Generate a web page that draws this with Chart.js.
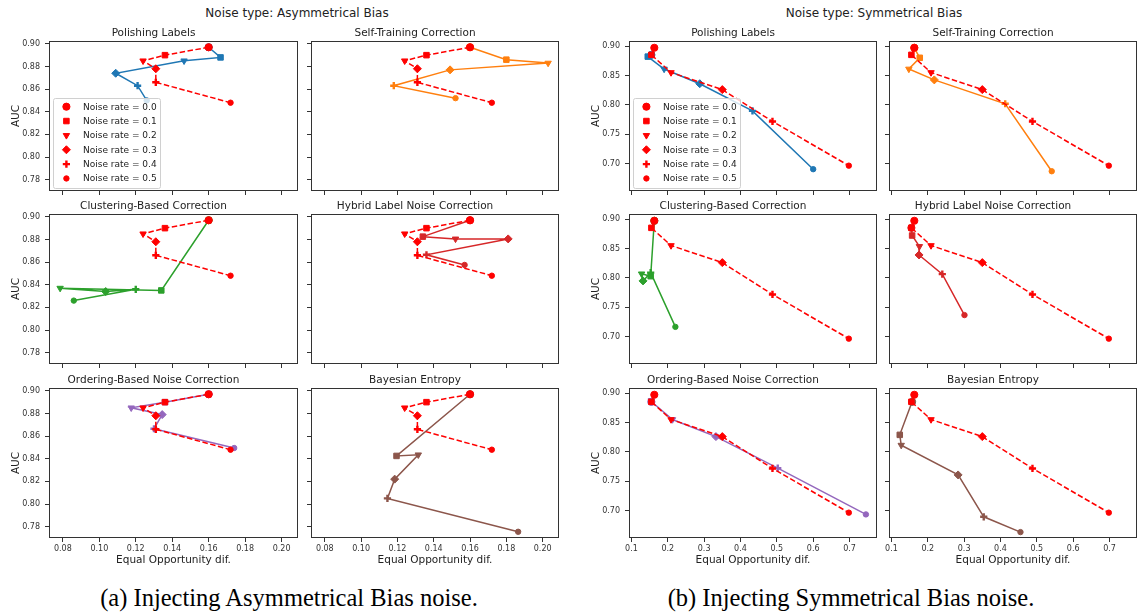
<!DOCTYPE html>
<html>
<head>
<meta charset="utf-8">
<script src="https://cdn.jsdelivr.net/npm/chart.js@4.4.1/dist/chart.umd.min.js"></script>
<style>
  body { margin: 0; background: #fff; width: 1139px; height: 615px; position: relative; overflow: hidden; font-family: "DejaVu Sans", sans-serif; }
  canvas { position: absolute; }
  .sup { position: absolute; font-size: 12px; line-height: 14px; color: #222; transform: translateX(-50%); white-space: nowrap; }
  .cap { position: absolute; font-family: "Liberation Serif", "Times New Roman", serif; font-size: 24.5px; line-height: 28px; color: #000; transform: translateX(-50%); white-space: nowrap; }
</style>
</head>
<body>
<div class="sup" style="left:297px; top:6px">Noise type: Asymmetrical Bias</div>
<div class="sup" style="left:874px; top:6px">Noise type: Symmetrical Bias</div>
<div class="cap" style="left:289px; top:584px">(a) Injecting Asymmetrical Bias noise.</div>
<div class="cap" style="left:851px; top:584px">(b) Injecting Symmetrical Bias noise.</div>

<script>
const noiseRates = ['0.0', '0.1', '0.2', '0.3', '0.4', '0.5'];
const methodNames = ['Polishing Labels', 'Self-Training Correction', 'Clustering-Based Correction',
  'Hybrid Label Noise Correction', 'Ordering-Based Noise Correction', 'Bayesian Entropy'];
const methodColors = ['#1f77b4', '#ff7f0e', '#2ca02c', '#d62728', '#9467bd', '#8c564b'];

// asymmetrical bias: x = equal opportunity dif., y = AUC, one value per noise rate
const asymBaselineEod = [0.160, 0.136, 0.124, 0.131, 0.131, 0.172];
const asymBaselineAuc = [0.897, 0.890, 0.885, 0.878, 0.866, 0.848];
const asymPolishingEod = [0.160, 0.1665, 0.1465, 0.109, 0.121, 0.126];
const asymPolishingAuc = [0.897, 0.888, 0.885, 0.874, 0.863, 0.850];
const asymSelfTrainEod = [0.160, 0.180, 0.203, 0.149, 0.118, 0.152];
const asymSelfTrainAuc = [0.897, 0.886, 0.883, 0.877, 0.863, 0.852];
const asymClusteringEod = [0.160, 0.134, 0.0785, 0.1035, 0.120, 0.086];
const asymClusteringAuc = [0.897, 0.835, 0.837, 0.834, 0.836, 0.826];
const asymHybridEod = [0.160, 0.134, 0.152, 0.181, 0.136, 0.157];
const asymHybridAuc = [0.897, 0.8825, 0.8805, 0.8805, 0.8665, 0.8575];
const asymOrderingEod = [0.160, 0.136, 0.1175, 0.1345, 0.130, 0.174];
const asymOrderingAuc = [0.897, 0.890, 0.885, 0.879, 0.8665, 0.8495];
const asymBayesEod = [0.160, 0.1195, 0.1315, 0.1185, 0.1145, 0.1865];
const asymBayesAuc = [0.897, 0.8425, 0.8435, 0.822, 0.805, 0.7755];

// symmetrical bias
const symBaselineEod = [0.163, 0.155, 0.209, 0.350, 0.488, 0.698];
const symBaselineAuc = [0.897, 0.885, 0.855, 0.826, 0.772, 0.697];
const symPolishingEod = [0.155, 0.145, 0.190, 0.288, 0.433, 0.600];
const symPolishingAuc = [0.885, 0.882, 0.861, 0.836, 0.790, 0.691];
const symSelfTrainEod = [0.163, 0.178, 0.148, 0.218, 0.413, 0.541];
const symSelfTrainAuc = [0.897, 0.880, 0.861, 0.8425, 0.802, 0.6875];
const symClusteringEod = [0.163, 0.153, 0.128, 0.132, 0.153, 0.221];
const symClusteringAuc = [0.897, 0.803, 0.807, 0.795, 0.809, 0.717];
const symHybridEod = [0.155, 0.157, 0.177, 0.176, 0.240, 0.301];
const symHybridAuc = [0.885, 0.872, 0.8535, 0.839, 0.8065, 0.737];
const symOrderingEod = [0.155, 0.154, 0.213, 0.3325, 0.5025, 0.745];
const symOrderingAuc = [0.885, 0.886, 0.855, 0.826, 0.7725, 0.694];
const symBayesEod = [0.157, 0.123, 0.127, 0.2835, 0.354, 0.455];
const symBayesAuc = [0.885, 0.829, 0.8115, 0.761, 0.690, 0.664];

// tick labels
const asymEodTicks = [0.08, 0.10, 0.12, 0.14, 0.16, 0.18, 0.20];
const asymAucTicks = [0.78, 0.80, 0.82, 0.84, 0.86, 0.88, 0.90];
const symEodTicks = [0.1, 0.2, 0.3, 0.4, 0.5, 0.6, 0.7];
const symAucTicks = [0.70, 0.75, 0.80, 0.85, 0.90];

// marker per noise rate (o, s, v, P-ish, +, small)
const rateStyles = ['circle', 'rect', 'triangle', 'rectRot', 'cross', 'circle'];
const rateRotation = [0, 0, 180, 0, 0, 0];
const rateRadius = [3.6, 3.9, 3.7, 4.0, 3.6, 2.7];
const rateBorder = [1, 1, 1, 1, 2.4, 1];

Chart.defaults.font.family = '"DejaVu Sans", sans-serif';
Chart.defaults.color = '#222';

const panels = [
  {
    left: [49, 311], width: [249, 248],
    eodTicks: asymEodTicks, aucTicks: asymAucTicks, eodRange: [0.0724, 0.209], aucRange: [0.770, 0.9025],
    xDigits: 2, yDigits: 2,
    baseline: [asymBaselineEod, asymBaselineAuc],
    methods: [[asymPolishingEod, asymPolishingAuc], [asymSelfTrainEod, asymSelfTrainAuc],
      [asymClusteringEod, asymClusteringAuc], [asymHybridEod, asymHybridAuc],
      [asymOrderingEod, asymOrderingAuc], [asymBayesEod, asymBayesAuc]]
  },
  {
    left: [629, 889], width: [248, 248],
    eodTicks: symEodTicks, aucTicks: symAucTicks, eodRange: [0.0934, 0.7755], aucRange: [0.654, 0.9085],
    xDigits: 1, yDigits: 2,
    baseline: [symBaselineEod, symBaselineAuc],
    methods: [[symPolishingEod, symPolishingAuc], [symSelfTrainEod, symSelfTrainAuc],
      [symClusteringEod, symClusteringAuc], [symHybridEod, symHybridAuc],
      [symOrderingEod, symOrderingAuc], [symBayesEod, symBayesAuc]]
  }
];
const rowTop = [41, 214, 388];
const plotH = 150;
const yAxisW = 40, xAxisH = 32, titleH = 16, padR = 8;

const toPoints = (xs, ys) => xs.map((x, i) => ({ x: x, y: ys[i] }));

const framePlugin = {
  id: 'frame',
  afterDatasetsDraw(chart) {
    const { ctx, chartArea: a } = chart;
    ctx.save();
    ctx.strokeStyle = '#333';
    ctx.lineWidth = 1;
    ctx.strokeRect(Math.round(a.left) + 0.5, Math.round(a.top) + 0.5, Math.round(a.width) - 1, Math.round(a.height) - 1);
    ctx.restore();
  }
};

const rateLegend = {
  id: 'rateLegend',
  afterDraw(chart, args, opts) {
    if (!opts.show) return;
    const { ctx, chartArea: a } = chart;
    const w = 107, h = 90;
    const x0 = a.left + 4, y0 = a.bottom - 3 - h;
    ctx.save();
    ctx.beginPath();
    ctx.roundRect(x0 + 0.5, y0 + 0.5, w, h, 2);
    ctx.fillStyle = 'rgba(255,255,255,0.8)';
    ctx.fill();
    ctx.strokeStyle = '#d0d0d0';
    ctx.lineWidth = 1;
    ctx.stroke();
    ctx.font = '9px "DejaVu Sans"';
    ctx.textBaseline = 'middle';
    noiseRates.forEach((r, i) => {
      const cy = y0 + 8.7 + i * 14.35;
      ctx.fillStyle = '#ff0000';
      ctx.strokeStyle = '#ff0000';
      ctx.lineWidth = rateBorder[i];
      Chart.helpers.drawPoint(ctx, { pointStyle: rateStyles[i], rotation: rateRotation[i], radius: rateRadius[i], borderWidth: rateBorder[i] }, x0 + 13.4, cy);
      ctx.fillStyle = '#222';
      ctx.fillText('Noise rate = ' + r, x0 + 30, cy + 0.5);
    });
    ctx.restore();
  }
};

function seriesDataset(xs, ys, color, dashed) {
  return {
    data: toPoints(xs, ys),
    showLine: true,
    borderColor: color,
    backgroundColor: color,
    borderWidth: 1.5,
    borderDash: dashed ? [5.5, 2.5] : [],
    pointStyle: rateStyles,
    pointRotation: rateRotation,
    pointRadius: rateRadius,
    pointBorderWidth: rateBorder,
    pointBackgroundColor: color,
    pointBorderColor: color
  };
}

panels.forEach((p, pi) => {
  methodNames.forEach((name, m) => {
    const col = m % 2, row = Math.floor(m / 2);
    const cv = document.createElement('canvas');
    const w = yAxisW + p.width[col] + padR;
    const h = titleH + plotH + xAxisH;
    cv.width = w; cv.height = h;
    cv.style.left = (p.left[col] - yAxisW) + 'px';
    cv.style.top = (rowTop[row] - titleH) + 'px';
    document.body.appendChild(cv);

    const showX = row === 2, showY = col === 0;
    new Chart(cv, {
      type: 'scatter',
      data: {
        datasets: [
          seriesDataset(p.baseline[0], p.baseline[1], '#ff0000', true),
          seriesDataset(p.methods[m][0], p.methods[m][1], methodColors[m], false)
        ]
      },
      options: {
        responsive: false,
        animation: false,
        events: [],
        layout: { padding: { left: 0, right: padR, top: 0, bottom: 0 } },
        elements: { line: { tension: 0 } },
        plugins: {
          legend: { display: false },
          tooltip: { enabled: false },
          title: { display: true, text: name, color: '#222', font: { size: 10.5, weight: 'normal' }, padding: { top: 1.7, bottom: 1.7 } },
          rateLegend: { show: m === 0 }
        },
        scales: {
          x: {
            type: 'linear', min: p.eodRange[0], max: p.eodRange[1],
            afterBuildTicks: s => { s.ticks = p.eodTicks.map(v => ({ value: v })); },
            afterFit: s => { s.height = xAxisH; },
            border: { display: false },
            grid: { drawOnChartArea: false, drawTicks: true, tickLength: 4, tickColor: '#333' },
            ticks: { display: showX, padding: 2, color: '#333', font: { size: 8 }, callback: v => v.toFixed(p.xDigits) },
            title: { display: showX, text: 'Equal Opportunity dif.', color: '#222', font: { size: 10.5 }, padding: { top: 0, bottom: 3 } }
          },
          y: {
            type: 'linear', min: p.aucRange[0], max: p.aucRange[1],
            afterBuildTicks: s => { s.ticks = p.aucTicks.map(v => ({ value: v })); },
            afterFit: s => { s.width = yAxisW; },
            border: { display: false },
            grid: { drawOnChartArea: false, drawTicks: true, tickLength: 4, tickColor: '#333' },
            ticks: { display: showY, padding: 5, color: '#333', font: { size: 8 }, callback: v => v.toFixed(p.yDigits) },
            title: { display: showY, text: 'AUC', color: '#222', font: { size: 10.5 }, padding: { top: 1, bottom: 0 } }
          }
        }
      },
      plugins: [framePlugin, rateLegend]
    });
  });
});
</script>
</body>
</html>
